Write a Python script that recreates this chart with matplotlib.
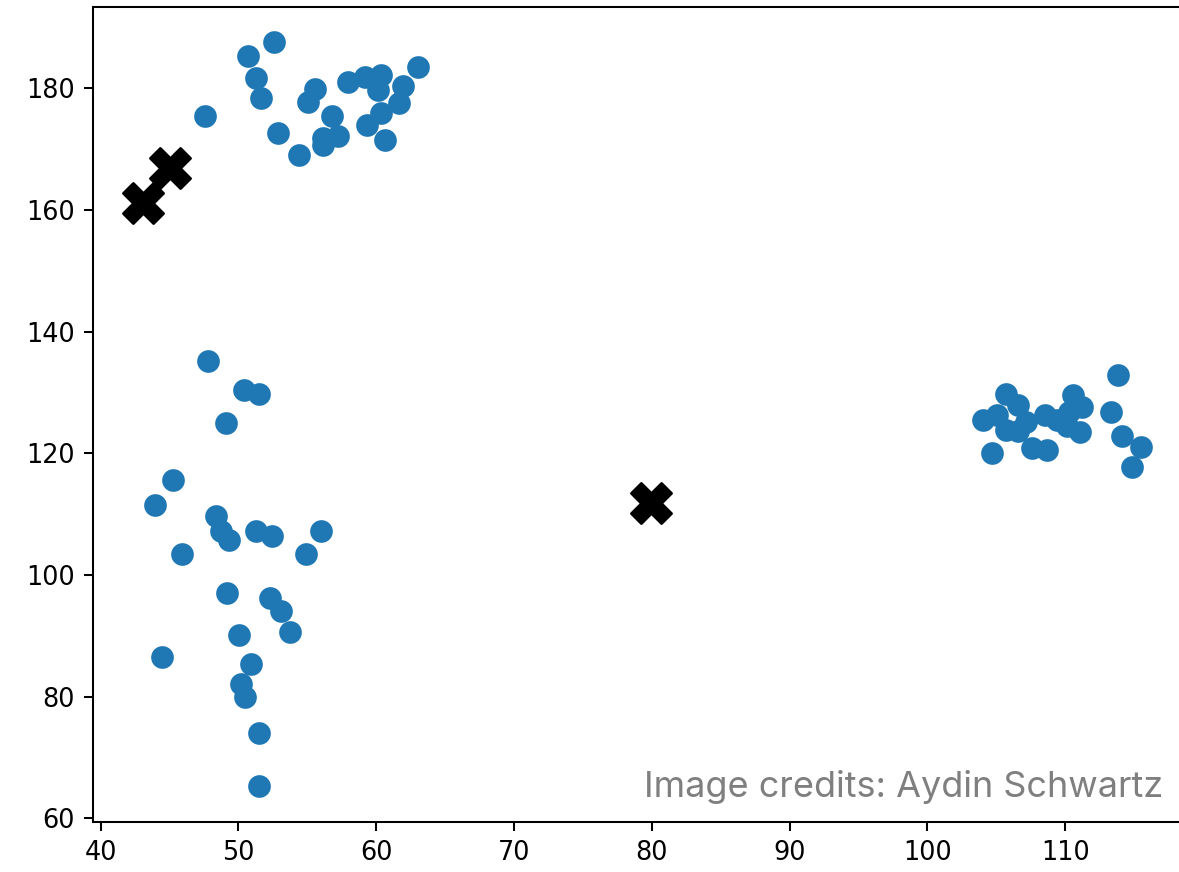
import matplotlib
matplotlib.use("Agg")
import matplotlib.pyplot as plt

plt.rcParams["font.family"] = ["DejaVu Sans"]

# Sample points (weight vs. height style data)
pts_x = [
    # upper-left group
    52.61, 50.70, 51.30, 51.61, 47.59, 52.91, 54.42, 55.53, 55.02, 56.83,
    56.13, 56.13, 57.23, 57.94, 59.19, 60.35, 60.15, 61.96, 61.66, 60.35,
    59.35, 60.65, 63.06,
    # lower-left group
    47.79, 50.40, 51.51, 49.09, 45.27, 43.97, 48.39, 48.74, 49.29, 51.30,
    52.41, 56.03, 45.88, 54.92, 49.19, 52.31, 53.11, 53.72, 50.05, 44.47,
    50.90, 50.20, 50.50, 51.51, 51.51,
    # right group
    113.82, 113.32, 114.12, 115.48, 114.83, 104.67, 104.07, 105.68, 106.58, 105.08,
    105.68, 106.58, 107.19, 107.59, 108.69, 108.54, 109.40, 110.10, 110.60, 111.21,
    110.30, 111.06,
]
pts_y = [
    187.56, 185.36, 181.74, 178.33, 175.51, 172.70, 168.99, 179.93, 177.72, 175.51,
    170.59, 171.80, 172.20, 181.04, 181.79, 182.24, 179.63, 180.33, 177.52, 175.92,
    173.91, 171.50, 183.55,
    135.15, 130.43, 129.73, 125.01, 115.57, 111.55, 109.75, 107.24, 105.73, 107.24,
    106.43, 107.24, 103.52, 103.52, 96.99, 96.29, 94.08, 90.57, 90.17, 86.45,
    85.35, 82.13, 79.92, 74.10, 65.36,
    132.94, 126.82, 122.80, 120.99, 117.68, 119.99, 125.51, 129.73, 127.92, 126.31,
    123.80, 123.60, 125.21, 120.79, 120.54, 126.31, 125.51, 124.41, 129.63, 127.62,
    126.82, 123.55,
]

# Centroid positions
cent_x = [43.06, 45.07, 79.95]
cent_y = [161.06, 166.88, 111.85]

credit = "Image credits: Aydin Schwartz"

W, H, DPI = 1179, 872, 184
fig = plt.figure(figsize=(W / DPI, H / DPI), dpi=DPI)
left, right, bottom, top = 92.7, 1182, 821.7, 7
ax = fig.add_axes([left / W, 1 - bottom / H, (right - left) / W, (bottom - top) / H])

ax.scatter(pts_x, pts_y, s=62, color="#1f77b4", zorder=2)
ax.scatter(cent_x, cent_y, s=250, marker="X", color="black", zorder=3)

ax.set_xlim(39.43, 118.48)
ax.set_ylim(59.46, 193.34)
ax.set_xticks([40, 50, 60, 70, 80, 90, 100, 110])
ax.set_yticks([60, 80, 100, 120, 140, 160, 180])

fig.text(1163 / W, 1 - 797 / H, credit, ha="right", va="baseline",
         fontsize=14.1, color="#7f7f7f", family=["Inter", "DejaVu Sans"])

fig.savefig("out.png", dpi=DPI)
